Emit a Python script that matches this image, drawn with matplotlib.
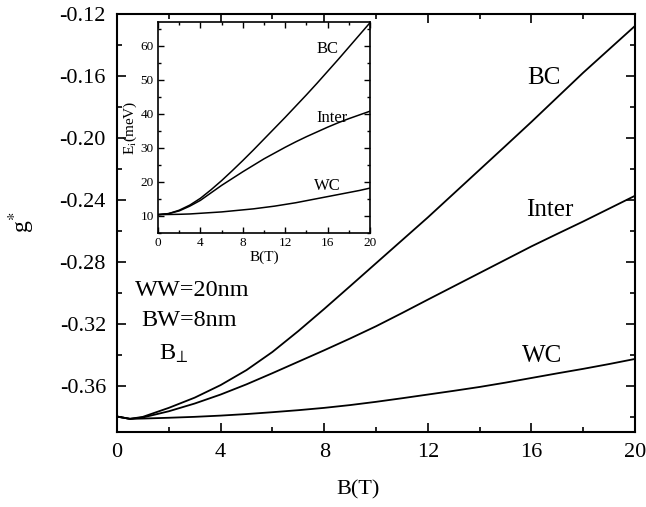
import matplotlib
matplotlib.use("Agg")
import matplotlib.pyplot as plt
from matplotlib.ticker import MultipleLocator

plt.rcParams["font.family"] = ["Liberation Serif", "DejaVu Serif"]
plt.rcParams["mathtext.fontset"] = "stix"

# Effective g-factor vs perpendicular magnetic field
B = [0, 0.5, 1, 2, 3, 4, 5, 6, 7, 8, 9, 10, 11, 12, 13, 14, 15, 16, 17, 18, 19, 20]
g_BC = [-0.3800, -0.3815, -0.3802, -0.3744, -0.3678, -0.3597, -0.3500, -0.3383,
        -0.3248, -0.3105, -0.2958, -0.2810, -0.2662, -0.2514, -0.2360, -0.2206,
        -0.2052, -0.1897, -0.1738, -0.1579, -0.1428, -0.1277]
g_Inter = [-0.3800, -0.3815, -0.3806, -0.3766, -0.3716, -0.3658, -0.3592, -0.3520,
           -0.3446, -0.3372, -0.3296, -0.3217, -0.3132, -0.3045, -0.2959, -0.2873,
           -0.2787, -0.2701, -0.2620, -0.2540, -0.2457, -0.2374]
g_WC = [-0.3800, -0.3815, -0.3813, -0.3808, -0.3802, -0.3794, -0.3784, -0.3772,
        -0.3759, -0.3744, -0.3726, -0.3705, -0.3682, -0.3658, -0.3634, -0.3609,
        -0.3581, -0.3551, -0.3521, -0.3492, -0.3461, -0.3428]

# Subband energies (inset)
B_in = [0, 1, 2, 3, 4, 5, 6, 7, 8, 9, 10, 11, 12, 13, 14, 15, 16, 17, 18, 19, 20]
E_BC = [10.4, 10.7, 11.7, 13.2, 15.2, 17.7, 20.4, 23.3, 26.3, 29.4, 32.6,
        35.8, 39.0, 42.3, 45.6, 49.0, 52.5, 56.0, 59.6, 63.2, 66.8]
E_Inter = [10.4, 10.7, 11.5, 12.9, 14.6, 16.8, 19.0, 21.0, 23.0, 24.9, 26.8,
           28.5, 30.2, 31.8, 33.3, 34.7, 36.1, 37.4, 38.6, 39.7, 40.8]
E_WC = [10.4, 10.45, 10.5, 10.6, 10.8, 11.0, 11.2, 11.5, 11.8, 12.1, 12.5,
        12.9, 13.4, 13.9, 14.5, 15.1, 15.7, 16.3, 16.9, 17.5, 18.2]

main_xticks = [0, 4, 8, 12, 16, 20]
main_yticks = [-0.36, -0.32, -0.28, -0.24, -0.20, -0.16, -0.12]
inset_yticks = [10, 20, 30, 40, 50, 60]

W, H = 646, 507
fig = plt.figure(figsize=(W / 100, H / 100), dpi=100)
ax = fig.add_axes([0.1811, 0.1479, 0.8019, 0.8245])

lw = 1.3
ax.plot(B, g_BC, color="black", lw=lw)
ax.plot(B, g_Inter, color="black", lw=lw)
ax.plot(B, g_WC, color="black", lw=lw)

ax.set_xlim(0, 20)
ax.set_ylim(-0.39, -0.12)
ax.set_xticks(main_xticks)
ax.set_yticks(main_yticks)
ax.set_yticklabels([f"{v:.2f}" for v in main_yticks])
ax.xaxis.set_minor_locator(MultipleLocator(2))
ax.yaxis.set_minor_locator(MultipleLocator(0.02))
ax.tick_params(which="both", direction="in", top=True, right=True, width=1.2)
ax.tick_params(which="major", length=6.5, labelsize=16, pad=8)
ax.tick_params(which="minor", length=3.5)
for s in ax.spines.values():
    s.set_linewidth(1.5)

ax.set_xlabel("B(T)", fontsize=16)
ax.xaxis.set_label_coords(0.465, -0.139)
ax.xaxis.label.set_va("center")
ax.set_ylabel(r"g$^{*}$", fontsize=17)
ax.yaxis.set_label_coords(-0.183, 0.502)
ax.yaxis.label.set_va("center")

ax.text(16.5, -0.1613, "BC", fontsize=18, ha="center", va="center")
ax.text(16.7, -0.2465, "Inter", fontsize=18, ha="center", va="center")
ax.text(16.4, -0.3407, "WC", fontsize=18, ha="center", va="center")

fig.text(192 / W, 1 - 290 / H, "WW=20nm", fontsize=17.5, ha="center", va="center")
fig.text(189 / W, 1 - 321 / H, "BW=8nm", fontsize=17.5, ha="center", va="center")
fig.text(159 / W, 1 - 354 / H, r"B$_{\!\perp}$", fontsize=17.5, ha="left", va="center")

# Inset: subband energies
axin = fig.add_axes([0.2446, 0.5404, 0.3282, 0.4162])
axin.plot(B_in, E_BC, color="black", lw=1.1)
axin.plot(B_in, E_Inter, color="black", lw=1.1)
axin.plot(B_in, E_WC, color="black", lw=1.1)
axin.set_xlim(0, 20)
axin.set_ylim(5, 67)
axin.set_xticks(main_xticks)
axin.set_yticks(inset_yticks)
axin.xaxis.set_minor_locator(MultipleLocator(2))
axin.yaxis.set_minor_locator(MultipleLocator(5))
axin.tick_params(which="both", direction="in", top=True, right=True, width=1.0)
axin.tick_params(which="major", length=4, labelsize=9.5, pad=3)
axin.tick_params(which="minor", length=2)
for s in axin.spines.values():
    s.set_linewidth(1.2)
axin.set_xlabel("B(T)", fontsize=11, labelpad=1)
axin.set_ylabel(r"E$_{\rm i}$(meV)", fontsize=11, labelpad=1)
axin.text(16.0, 59.0, "BC", fontsize=12, ha="center", va="center")
axin.text(16.4, 38.9, "Inter", fontsize=12, ha="center", va="center")
axin.text(16.0, 18.7, "WC", fontsize=12, ha="center", va="center")

fig.savefig("out.png", dpi=100)
